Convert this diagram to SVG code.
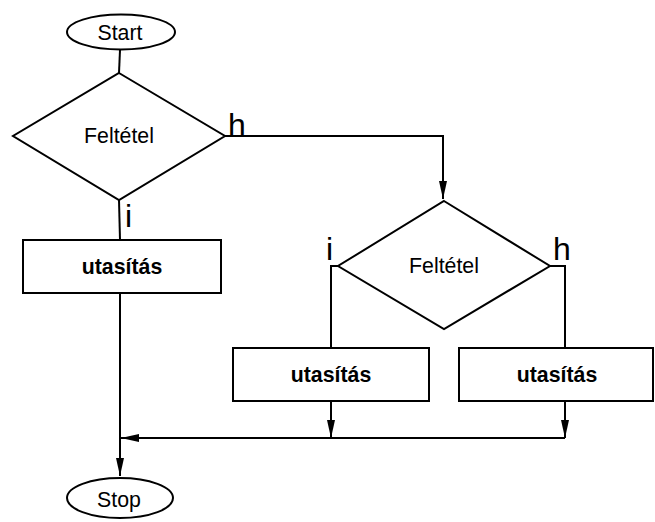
<svg xmlns="http://www.w3.org/2000/svg" width="655" height="522" viewBox="0 0 655 522">
  <style>
    .shape { fill: #ffffff; stroke: #000000; stroke-width: 2; }
    .wire { fill: none; stroke: #000000; stroke-width: 2; }
    .txt { font-family: "Liberation Sans", Arial, sans-serif; font-size: 21.3px; fill: #000000; text-anchor: middle; }
    .bold { font-weight: bold; }
    .lbl { font-family: "Liberation Sans", Arial, sans-serif; font-size: 32px; fill: #000000; }
  </style>
  <defs>
    <marker id="arrow" markerWidth="18" markerHeight="8" refX="18" refY="4" orient="auto" markerUnits="userSpaceOnUse">
      <path d="M0,0 L18,4 L0,8 Z" fill="#000000"/>
    </marker>
  </defs>

  <rect width="655" height="522" fill="#ffffff"/>

  <g id="connectors">
    <path class="wire" d="M120,50 L119,73"/>
    <path class="wire" d="M119,200 L120,240"/>
    <path class="wire" d="M225,136 L443,136 L443,199" marker-end="url(#arrow)"/>
    <path class="wire" d="M338,266 L331,266 L331,348"/>
    <path class="wire" d="M550,266 L565,266 L565,348"/>
    <path class="wire" d="M331,401 L331,438" marker-end="url(#arrow)"/>
    <path class="wire" d="M565,401 L565,438" marker-end="url(#arrow)"/>
    <path class="wire" d="M565,438 L121,438" marker-end="url(#arrow)"/>
    <path class="wire" d="M120,293 L120,476" marker-end="url(#arrow)"/>
  </g>

  <g id="start">
    <ellipse class="shape" cx="121" cy="32" rx="54" ry="17.5"/>
    <text class="txt" x="120" y="40">Start</text>
  </g>

  <g id="decision1">
    <polygon class="shape" points="119,73 225,136 119,200 13,136"/>
    <text class="txt" x="119" y="143">Feltétel</text>
    <text class="lbl" x="228" y="136">h</text>
    <text class="lbl" x="125" y="227">i</text>
  </g>

  <g id="statement1">
    <rect class="shape" x="23" y="240" width="198" height="53"/>
    <text class="txt bold" x="122" y="274">utasítás</text>
  </g>

  <g id="decision2">
    <polygon class="shape" points="444,201 550,266 444,329 338,266"/>
    <text class="txt" x="444" y="273">Feltétel</text>
    <text class="lbl" x="326" y="260">i</text>
    <text class="lbl" x="553" y="260">h</text>
  </g>

  <g id="statement2">
    <rect class="shape" x="233" y="348" width="196" height="53"/>
    <text class="txt bold" x="331" y="382">utasítás</text>
  </g>

  <g id="statement3">
    <rect class="shape" x="459" y="348" width="194" height="53"/>
    <text class="txt bold" x="557" y="382">utasítás</text>
  </g>

  <g id="stop">
    <ellipse class="shape" cx="120" cy="498" rx="53" ry="20"/>
    <text class="txt" x="119" y="507">Stop</text>
  </g>
</svg>
